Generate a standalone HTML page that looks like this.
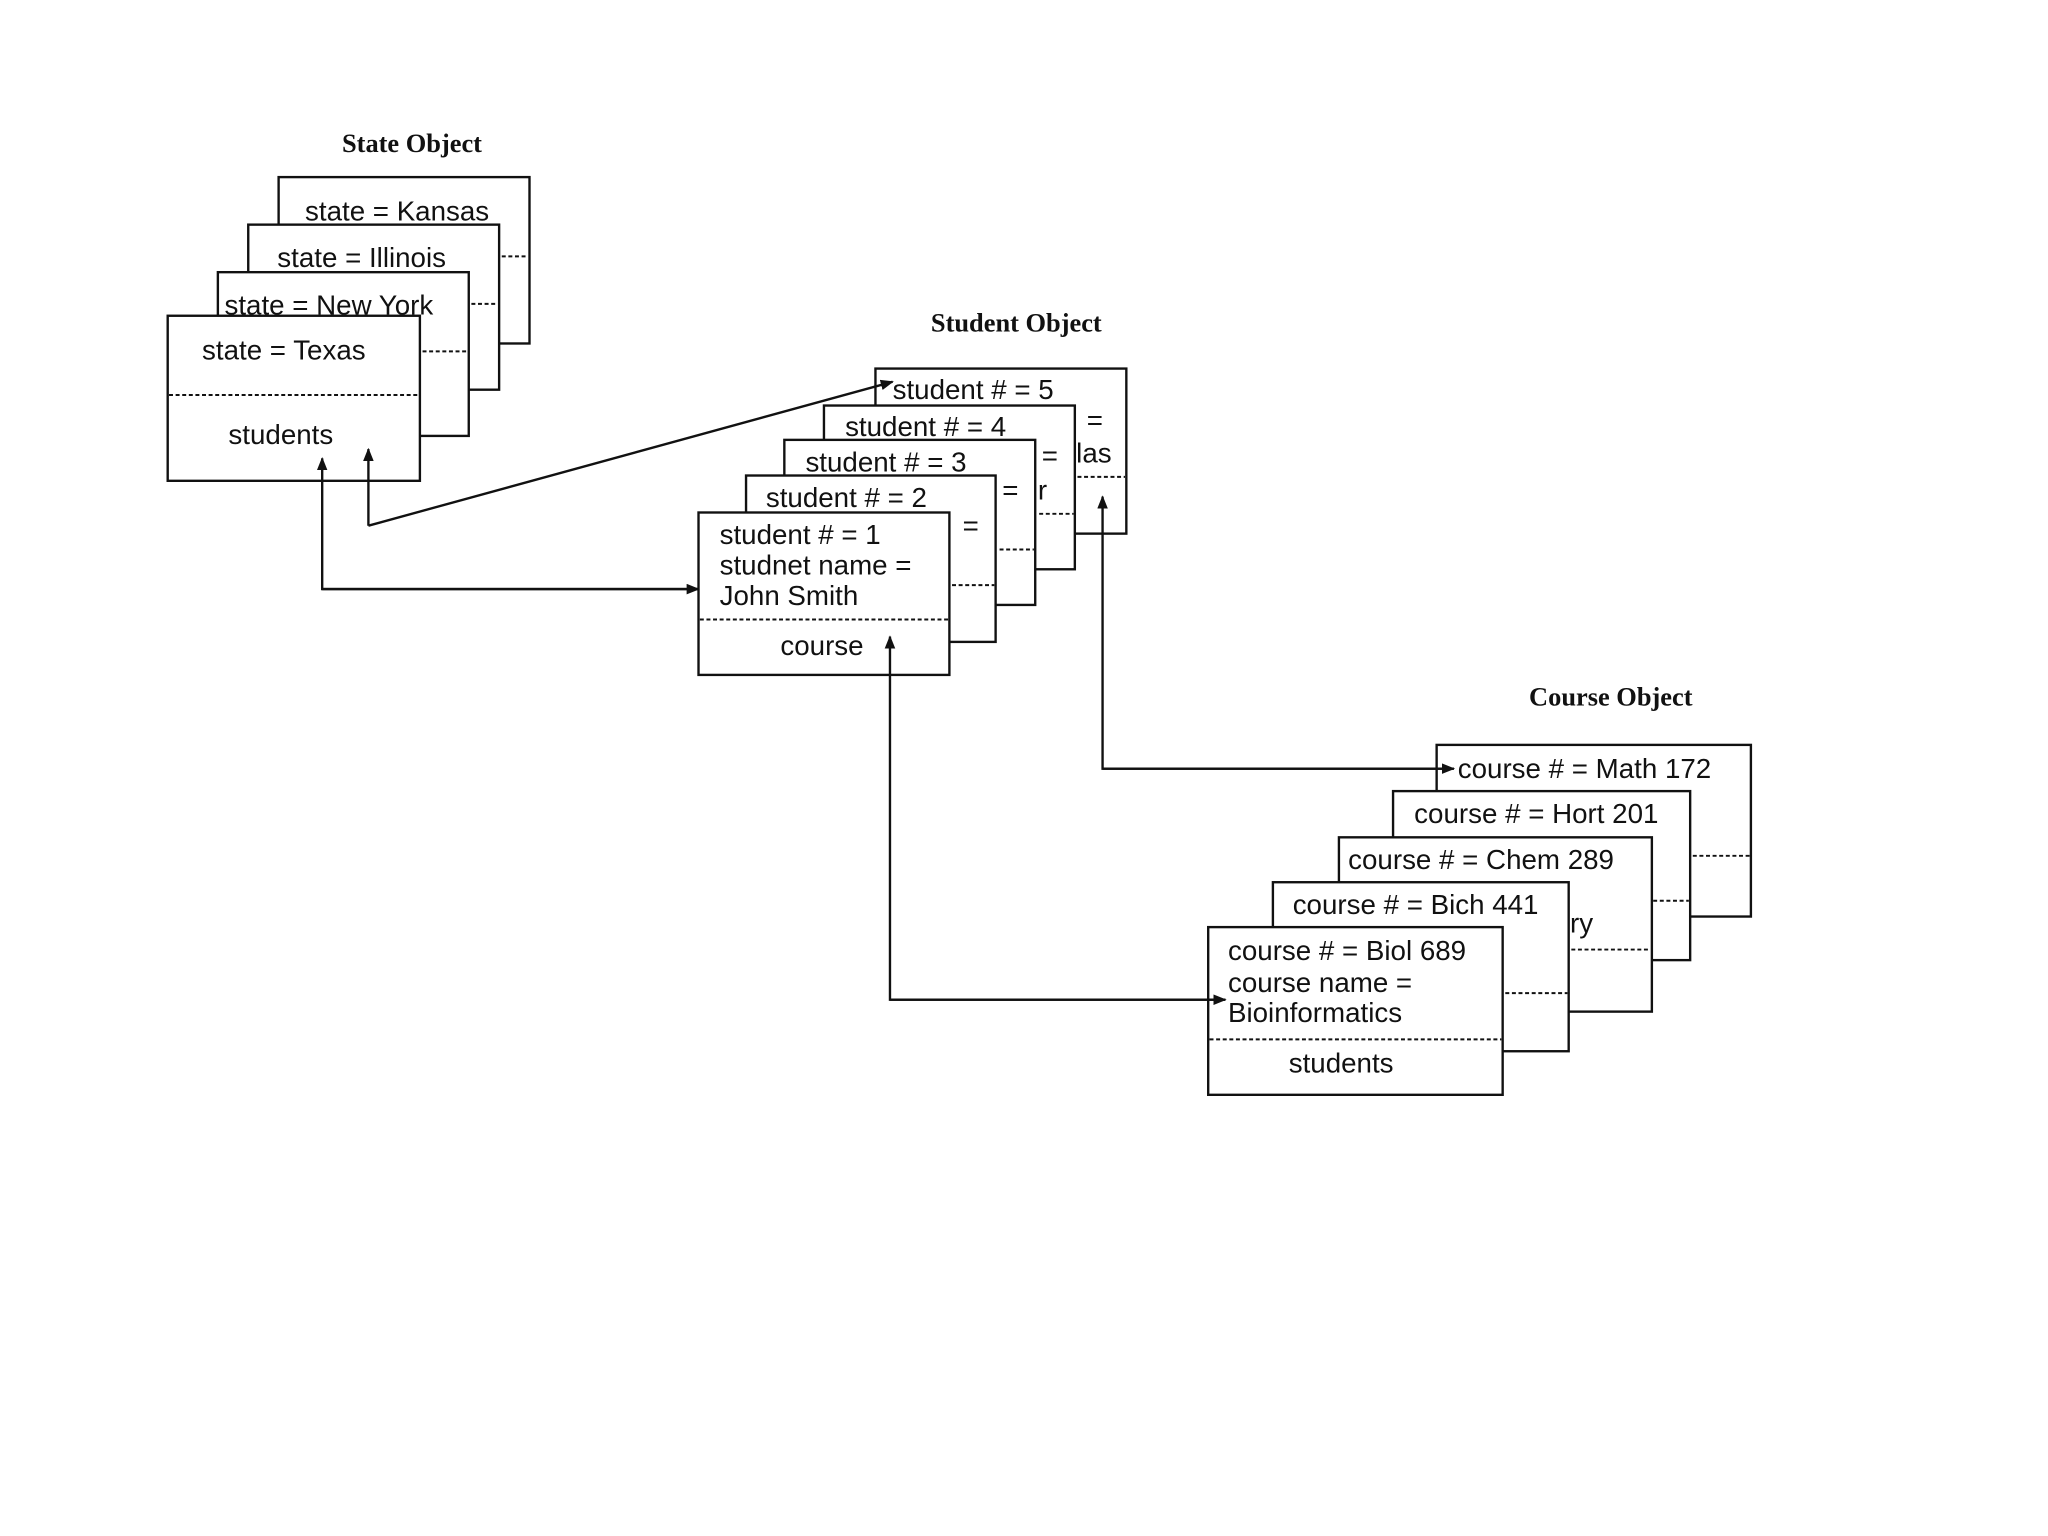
<!DOCTYPE html>
<html><head><meta charset="utf-8"><style>
html,body{margin:0;padding:0;background:#fff;}
svg{display:block}
text{font-family:"Liberation Sans",sans-serif;font-size:21px;fill:#111}
.t{font-family:"Liberation Serif",serif;font-weight:bold;font-size:20px}
.b{fill:#fff;stroke:#111;stroke-width:1.8}
.d{stroke:#111;stroke-width:1.5;stroke-dasharray:3 2;fill:none}
.l{stroke:#111;stroke-width:1.8;fill:none}
</style></head><body>
<svg width="2048" height="1536" viewBox="0 0 1551 1163" xmlns="http://www.w3.org/2000/svg">
<defs><marker id="a" markerWidth="10" markerHeight="8" refX="9" refY="4" orient="auto" markerUnits="userSpaceOnUse"><path d="M0,0 L10,4 L0,8 z" fill="#111"/></marker></defs>
<text class="t" x="259" y="115">State Object</text>
<text class="t" x="705" y="251">Student Object</text>
<text class="t" x="1158" y="534">Course Object</text>

<!-- State -->
<rect class="b" x="211" y="134" width="190" height="126"/>
<text x="231" y="167">state = Kansas</text>
<rect class="b" x="188" y="170" width="190" height="125"/>
<text x="210" y="202">state = Illinois</text>
<line class="d" x1="380" y1="194" x2="400" y2="194"/>
<rect class="b" x="165" y="206" width="190" height="124"/>
<text x="170" y="238">state = New York</text>
<line class="d" x1="357" y1="230" x2="377" y2="230"/>
<rect class="b" x="127" y="239" width="191" height="125"/>
<text x="153" y="272">state = Texas</text>
<line class="d" x1="320" y1="266" x2="354" y2="266"/>
<line class="d" x1="128" y1="299" x2="317" y2="299"/>
<text x="173" y="336">students</text>

<!-- Student -->
<rect class="b" x="663" y="279" width="190" height="125"/>
<text x="823" y="325">=</text><text x="815" y="350">las</text>
<line class="d" x1="816" y1="361" x2="852" y2="361"/>
<rect class="b" x="624" y="307" width="190" height="124"/>
<text x="640" y="330">student # = 4</text>
<text x="789" y="352">=</text><text x="786" y="378">r</text>
<line class="d" x1="787" y1="389" x2="813" y2="389"/>
<rect class="b" x="594" y="333" width="190" height="125"/>
<text x="610" y="357">student # = 3</text>
<text x="759" y="378">=</text>
<line class="d" x1="757" y1="416" x2="783" y2="416"/>
<rect class="b" x="565" y="360" width="189" height="126"/>
<text x="580" y="384">student # = 2</text>
<text x="729" y="405">=</text>
<line class="d" x1="721" y1="443" x2="753" y2="443"/>
<rect class="b" x="529" y="388" width="190" height="123"/>
<text x="545" y="412">student # = 1</text>
<text x="545" y="435">studnet name =</text>
<text x="545" y="458">John Smith</text>
<line class="d" x1="530" y1="469" x2="718" y2="469"/>
<text x="591" y="496">course</text>
<text x="676" y="302">student # = 5</text>

<!-- Course -->
<rect class="b" x="1088" y="564" width="238" height="130"/>
<text x="1104" y="589">course # = Math 172</text>
<line class="d" x1="1282" y1="648" x2="1325" y2="648"/>
<rect class="b" x="1055" y="599" width="225" height="128"/>
<text x="1071" y="623">course # = Hort 201</text>
<line class="d" x1="1252" y1="682" x2="1279" y2="682"/>
<rect class="b" x="1014" y="634" width="237" height="132"/>
<text x="1021" y="658">course # = Chem 289</text>
<text x="1189" y="706">ry</text>
<line class="d" x1="1190" y1="719" x2="1250" y2="719"/>
<rect class="b" x="964" y="668" width="224" height="128"/>
<text x="979" y="692">course # = Bich 441</text>
<line class="d" x1="1140" y1="752" x2="1187" y2="752"/>
<rect class="b" x="915" y="702" width="223" height="127"/>
<text x="930" y="727">course # = Biol 689</text>
<text x="930" y="751">course name =</text>
<text x="930" y="774">Bioinformatics</text>
<line class="d" x1="916" y1="787" x2="1137" y2="787"/>
<text x="976" y="812">students</text>

<!-- connectors -->
<path class="l" d="M529,446 L244,446 L244,347" marker-end="url(#a)"/>
<path class="l" d="M244,446 L529,446" marker-end="url(#a)"/>
<path class="l" d="M279,398 L279,340" marker-end="url(#a)"/>
<path class="l" d="M279,398 L676,289" marker-end="url(#a)"/>
<path class="l" d="M928,757 L674,757 L674,482" marker-end="url(#a)"/>
<path class="l" d="M674,757 L928,757" marker-end="url(#a)"/>
<path class="l" d="M1101,582 L835,582 L835,376" marker-end="url(#a)"/>
<path class="l" d="M835,582 L1101,582" marker-end="url(#a)"/>
</svg>
</body></html>
